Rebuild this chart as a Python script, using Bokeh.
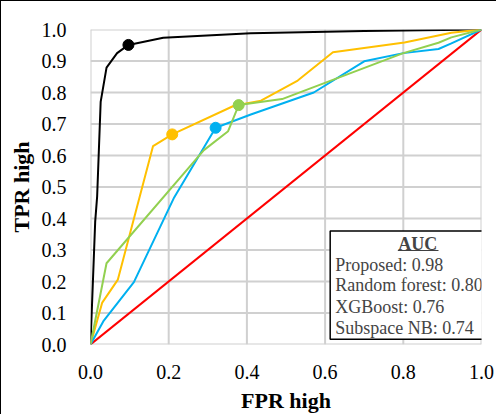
from bokeh.plotting import figure
from bokeh.models import FixedTicker, Label, BoxAnnotation, Range1d, PrintfTickFormatter
from bokeh.embed import file_html
from bokeh.resources import INLINE

# ROC curves
proposed_fpr = [0, 0.012, 0.017, 0.026, 0.041, 0.068, 0.097, 0.186, 0.41, 0.7, 1.0]
proposed_tpr = [0, 0.39, 0.47, 0.77, 0.879, 0.925, 0.951, 0.974, 0.988, 0.995, 1.0]

rf_fpr = [0, 0.03, 0.07, 0.16, 0.209, 0.367, 0.436, 0.53, 0.62, 0.803, 0.923, 1.0]
rf_tpr = [0, 0.133, 0.206, 0.63, 0.667, 0.758, 0.774, 0.838, 0.928, 0.959, 0.99, 1.0]

xgb_fpr = [0, 0.034, 0.111, 0.214, 0.32, 0.41, 0.571, 0.70, 0.80, 0.89, 0.923, 1.0]
xgb_tpr = [0, 0.076, 0.198, 0.467, 0.688, 0.73, 0.80, 0.899, 0.925, 0.938, 0.956, 1.0]

snb_fpr = [0, 0.041, 0.29, 0.352, 0.379, 0.49, 0.80, 0.89, 0.923, 1.0]
snb_tpr = [0, 0.258, 0.617, 0.677, 0.76, 0.779, 0.925, 0.958, 0.975, 1.0]

chance_fpr = [0, 1]
chance_tpr = [0, 1]

# operating points (dots)
op_fpr = [0.097, 0.209, 0.32, 0.379]
op_tpr = [0.951, 0.667, 0.688, 0.76]

colors = ["#000000", "#FFC000", "#00B0F0", "#92D050"]

auc_title = "AUC"
auc_lines = ["Proposed: 0.98", " Random forest: 0.80", "XGBoost: 0.76", "Subspace NB: 0.74"]

x_ticks = [0, 0.2, 0.4, 0.6, 0.8, 1.0]
y_ticks = [0, 0.1, 0.2, 0.3, 0.4, 0.5, 0.6, 0.7, 0.8, 0.9, 1.0]

FONT = "Liberation Serif"
GRID = "#D0D0D0"

p = figure(width=496, height=414, output_backend="svg", toolbar_location=None,
           x_range=Range1d(0, 1), y_range=Range1d(0, 1),
           min_border_left=89, min_border_top=28, min_border_right=16, min_border_bottom=64)
# outer chart-area frame: only its left and top edges are inside the picture
p.styles = {"border-left": "1.5px solid #000000", "border-top": "1.5px solid #000000"}

p.outline_line_color = None
p.xaxis.ticker = FixedTicker(ticks=x_ticks)
p.yaxis.ticker = FixedTicker(ticks=y_ticks)
p.xaxis.formatter = PrintfTickFormatter(format="%.1f")
p.yaxis.formatter = PrintfTickFormatter(format="%.1f")
p.xgrid.visible = False
p.ygrid.visible = False

# gridlines drawn as glyphs at the tick positions
p.multi_line(xs=[[t, t] for t in x_ticks], ys=[[0, 1] for t in x_ticks],
             line_color=GRID, line_width=2)
p.multi_line(xs=[[0, 1] for t in y_ticks], ys=[[t, t] for t in y_ticks],
             line_color=GRID, line_width=2)

for ax in (p.xaxis, p.yaxis):
    ax.axis_line_color = None
    ax.major_tick_line_color = None
    ax.minor_tick_line_color = None
    ax.major_label_text_font = FONT
    ax.major_label_text_font_size = "20px"
    ax.major_label_text_color = "#000000"
    ax.axis_label_text_font = FONT
    ax.axis_label_text_font_size = "22px"
    ax.axis_label_text_font_style = "bold"
    ax.axis_label_text_color = "#000000"

p.xaxis.axis_label = "FPR high"
p.yaxis.axis_label = "TPR high"
p.xaxis.major_label_standoff = 14
p.yaxis.major_label_standoff = 18
p.xaxis.axis_label_standoff = 6
p.yaxis.axis_label_standoff = 5

p.line(chance_fpr, chance_tpr, line_color="#FF0000", line_width=2)
p.line(proposed_fpr, proposed_tpr, line_color=colors[0], line_width=2)
p.line(rf_fpr, rf_tpr, line_color=colors[1], line_width=2)
p.line(xgb_fpr, xgb_tpr, line_color=colors[2], line_width=2)
p.line(snb_fpr, snb_tpr, line_color=colors[3], line_width=2)
p.scatter(op_fpr, op_tpr, size=11, fill_color=colors, line_color=colors)

# AUC box
p.add_layout(BoxAnnotation(left=0.613, right=1.1, bottom=0.0166, top=0.36,
                           fill_color="white", fill_alpha=1.0,
                           line_color="black", line_alpha=1.0, line_width=1.5))
p.add_layout(Label(x=0.837, y=0.32, text=auc_title, text_font=FONT, text_font_size="18px",
                   text_font_style="bold", text_align="center", text_baseline="middle"))
p.add_layout(BoxAnnotation(left=0.786, right=0.890, bottom=0.2965, top=0.2995,
                           fill_color="black", fill_alpha=1.0, line_alpha=0))
line_y = [0.253, 0.1875, 0.12, 0.052]
for t, yy in zip(auc_lines, line_y):
    p.add_layout(Label(x=0.626, y=yy, text=t, text_font=FONT, text_font_size="18px",
                       text_align="left", text_baseline="middle"))

open("out.html", "w").write(file_html(p, INLINE))
